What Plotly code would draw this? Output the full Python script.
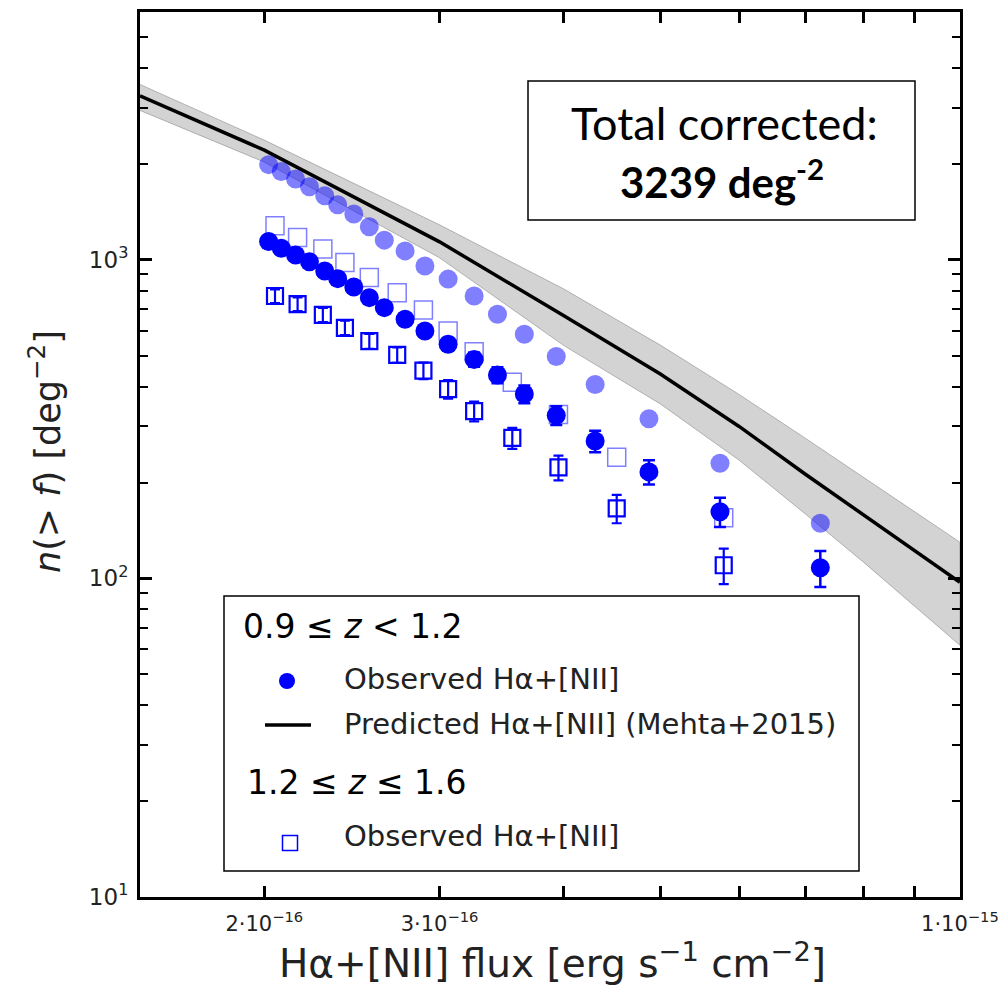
import plotly.graph_objects as go

# ---------------- data ----------------
flux_z1 = [2.02e-16, 2.08e-16, 2.15e-16, 2.22e-16, 2.30e-16, 2.37e-16, 2.46e-16, 2.55e-16, 2.64e-16, 2.77e-16,
           2.90e-16, 3.06e-16, 3.25e-16, 3.43e-16, 3.65e-16, 3.93e-16, 4.30e-16, 4.87e-16, 5.74e-16, 7.24e-16]
n_obs_z1 = [1142, 1088, 1035, 986, 923, 873, 822, 761, 708, 651, 598, 543, 487, 435, 379, 325, 270, 216, 162, 108]
err_obs_z1 = [30, 29, 29, 28, 28, 27, 27, 26, 26, 26, 25, 25, 25, 25, 24, 22, 21, 19, 17, 14]
n_corr_z1 = [1990, 1895, 1794, 1697, 1590, 1489, 1392, 1270, 1153, 1067, 957, 870, 770, 675, 584, 497, 406, 317, 230, 149]

flux_z2 = [2.05e-16, 2.16e-16, 2.29e-16, 2.41e-16, 2.55e-16, 2.72e-16, 2.89e-16, 3.06e-16, 3.25e-16, 3.55e-16,
           3.95e-16, 4.52e-16, 5.79e-16]
n_obs_z2 = [770, 726, 672, 612, 556, 503, 449, 393, 335, 276, 223, 166, 110]
err_obs_z2 = [38, 36, 34, 32, 30, 28, 27, 26, 24, 21, 20, 17, 14]
n_corr_z2 = [1279, 1175, 1081, 981, 880, 789, 696, 598, 515, 413, 327, 240, 155]

flux_pred = [1.5e-16, 2e-16, 3e-16, 4e-16, 5e-16, 6e-16, 7e-16, 8e-16, 9e-16, 1e-15]
n_pred = [3270, 2210, 1139, 668, 438, 300, 212, 158, 122, 97.2]
n_pred_hi = [3553, 2376, 1288, 810, 540, 378, 275, 208, 162, 130]
n_pred_lo = [2945, 2027, 1015, 538, 353, 235, 159, 112.5, 82, 61.7]

x_tickvals = [2e-16, 3e-16, 4e-16, 5e-16, 6e-16, 7e-16, 8e-16, 9e-16, 1e-15]
x_ticktext = ["2·10<sup>−16</sup>", "3·10<sup>−16</sup>", "", "", "", "", "", "", "1·10<sup>−15</sup>"]
y_tickvals = [10, 100, 1000]
y_ticktext = ["10<sup>1</sup>", "10<sup>2</sup>", "10<sup>3</sup>"]
y_minor = [20, 30, 40, 50, 60, 70, 80, 90, 200, 300, 400, 500, 600, 700, 800, 900, 2000, 3000, 4000, 5000]

BLUE = "#0000ff"
LBLUE = "rgba(0,0,255,0.5)"
FONT = "DejaVu Sans"

# ---------------- layout geometry (pixels) ----------------
W, H = 1000, 990
L, R, T, B = 140, 40, 12, 93
PW, PH = W - L - R, H - T - B


def px(x):
    return (x - L) / PW


def py(y):
    return (H - B - y) / PH


fig = go.Figure()

# prediction band
fig.add_trace(go.Scatter(
    x=flux_pred + flux_pred[::-1], y=n_pred_hi + n_pred_lo[::-1],
    fill="toself", fillcolor="rgba(128,128,128,0.35)",
    line=dict(color="rgba(110,110,110,0.45)", width=1), mode="lines",
    hoverinfo="skip", showlegend=False))
fig.add_trace(go.Scatter(x=flux_pred, y=n_pred, mode="lines",
                         line=dict(color="black", width=3.5), showlegend=False))

# corrected (translucent) circles
fig.add_trace(go.Scatter(x=flux_z1, y=n_corr_z1, mode="markers",
                         marker=dict(symbol="circle", size=19, color=LBLUE, line=dict(width=0)),
                         showlegend=False))
# corrected (light) squares
fig.add_trace(go.Scatter(x=flux_z2, y=n_corr_z2, mode="markers",
                         marker=dict(symbol="square-open", size=18, color=LBLUE, line=dict(width=1.5, color=LBLUE)),
                         showlegend=False))
# observed squares
fig.add_trace(go.Scatter(x=flux_z2, y=n_obs_z2, mode="markers",
                         marker=dict(symbol="square-open", size=16, color=BLUE, line=dict(width=2.2, color=BLUE)),
                         error_y=dict(type="data", array=err_obs_z2, color=BLUE, thickness=2.2, width=5),
                         showlegend=False))
# observed circles
fig.add_trace(go.Scatter(x=flux_z1, y=n_obs_z1, mode="markers",
                         marker=dict(symbol="circle", size=19, color=BLUE, line=dict(width=0)),
                         error_y=dict(type="data", array=err_obs_z1, color=BLUE, thickness=2.5, width=6),
                         showlegend=False))

shapes = []
ann = []

# text box
shapes.append(dict(type="rect", xref="paper", yref="paper", x0=px(528), x1=px(915), y0=py(220), y1=py(81),
                   line=dict(color="black", width=1.5), fillcolor="white", layer="above"))
ann.append(dict(xref="paper", yref="paper", x=px(724), y=py(123), text="Total corrected:",
                showarrow=False, xanchor="center", yanchor="middle",
                font=dict(family="Lato", size=45, color="black")))
ann.append(dict(xref="paper", yref="paper", x=px(722), y=py(179), text="<b>3239 deg<sup>-2</sup></b>",
                showarrow=False, xanchor="center", yanchor="middle",
                font=dict(family="Lato", size=42, color="black")))

# legend box (drawn manually to reproduce grouped headers)
shapes.append(dict(type="rect", xref="paper", yref="paper", x0=px(224), x1=px(859), y0=py(871), y1=py(596),
                   line=dict(color="black", width=1.5), fillcolor="white", layer="above"))
ann.append(dict(xref="paper", yref="paper", x=px(241), y=py(627), text="0.9 ≤ <i>z</i> < 1.2",
                showarrow=False, xanchor="left", yanchor="middle",
                font=dict(family=FONT, size=33, color="black")))
shapes.append(dict(type="circle", xref="paper", yref="paper", xsizemode="pixel", ysizemode="pixel",
                   xanchor=px(287), yanchor=py(681), x0=-8, x1=8, y0=-8, y1=8,
                   fillcolor=BLUE, line=dict(width=0), layer="above"))
ann.append(dict(xref="paper", yref="paper", x=px(342), y=py(679), text="Observed Hα+[NII]",
                showarrow=False, xanchor="left", yanchor="middle",
                font=dict(family=FONT, size=29, color="#222")))
shapes.append(dict(type="line", xref="paper", yref="paper", x0=px(265), x1=px(311), y0=py(725), y1=py(725),
                   line=dict(color="black", width=3.5), layer="above"))
ann.append(dict(xref="paper", yref="paper", x=px(342), y=py(724), text="Predicted Hα+[NII] (Mehta+2015)",
                showarrow=False, xanchor="left", yanchor="middle",
                font=dict(family=FONT, size=29, color="#222")))
ann.append(dict(xref="paper", yref="paper", x=px(245), y=py(782), text="1.2 ≤ <i>z</i> ≤ 1.6",
                showarrow=False, xanchor="left", yanchor="middle",
                font=dict(family=FONT, size=33, color="black")))
shapes.append(dict(type="rect", xref="paper", yref="paper", xsizemode="pixel", ysizemode="pixel",
                   xanchor=px(290), yanchor=py(843), x0=-7.5, x1=7.5, y0=-7.5, y1=7.5,
                   fillcolor="rgba(0,0,0,0)", line=dict(color=BLUE, width=1.5), layer="above"))
ann.append(dict(xref="paper", yref="paper", x=px(342), y=py(836), text="Observed Hα+[NII]",
                showarrow=False, xanchor="left", yanchor="middle",
                font=dict(family=FONT, size=29, color="#222")))

# axis titles
ann.append(dict(xref="paper", yref="paper", x=px(552), y=py(961),
                text="Hα+[NII] flux [erg s<sup>−1</sup> cm<sup>−2</sup>]",
                showarrow=False, xanchor="center", yanchor="middle",
                font=dict(family=FONT, size=39, color="#222")))
ann.append(dict(xref="paper", yref="paper", x=px(45), y=py(452),
                text="<i>n</i>(> <i>f</i>) [deg<sup>−2</sup>]", textangle=-90,
                showarrow=False, xanchor="center", yanchor="middle",
                font=dict(family=FONT, size=35, color="#222")))

axis_common = dict(showline=True, linecolor="black", linewidth=3, mirror="ticks",
                   ticks="inside", tickcolor="black", showgrid=False, zeroline=False,
                   automargin=False, ticklabeloverflow="allow")

fig.update_layout(
    width=W, height=H, margin=dict(l=L, r=R, t=T, b=B),
    paper_bgcolor="white", plot_bgcolor="white",
    shapes=shapes, annotations=ann, showlegend=False,
    xaxis=dict(type="log", range=[-15.8239, -14.9999], tickmode="array",
               tickvals=x_tickvals, ticktext=x_ticktext, ticklen=11, tickwidth=2.5,
               tickfont=dict(family=FONT, size=21, color="#222"), ticklabelstandoff=6,
               **axis_common),
    yaxis=dict(type="log", range=[1.0, 3.778], tickmode="array",
               tickvals=y_tickvals, ticktext=y_ticktext, ticklen=12, tickwidth=2.5,
               tickfont=dict(family=FONT, size=23, color="#222"), ticklabelstandoff=4,
               minor=dict(ticks="inside", tickmode="array", tickvals=y_minor, ticklen=8,
                          tickwidth=2, tickcolor="black", showgrid=False),
               **axis_common),
)

fig.write_html("out.html")
